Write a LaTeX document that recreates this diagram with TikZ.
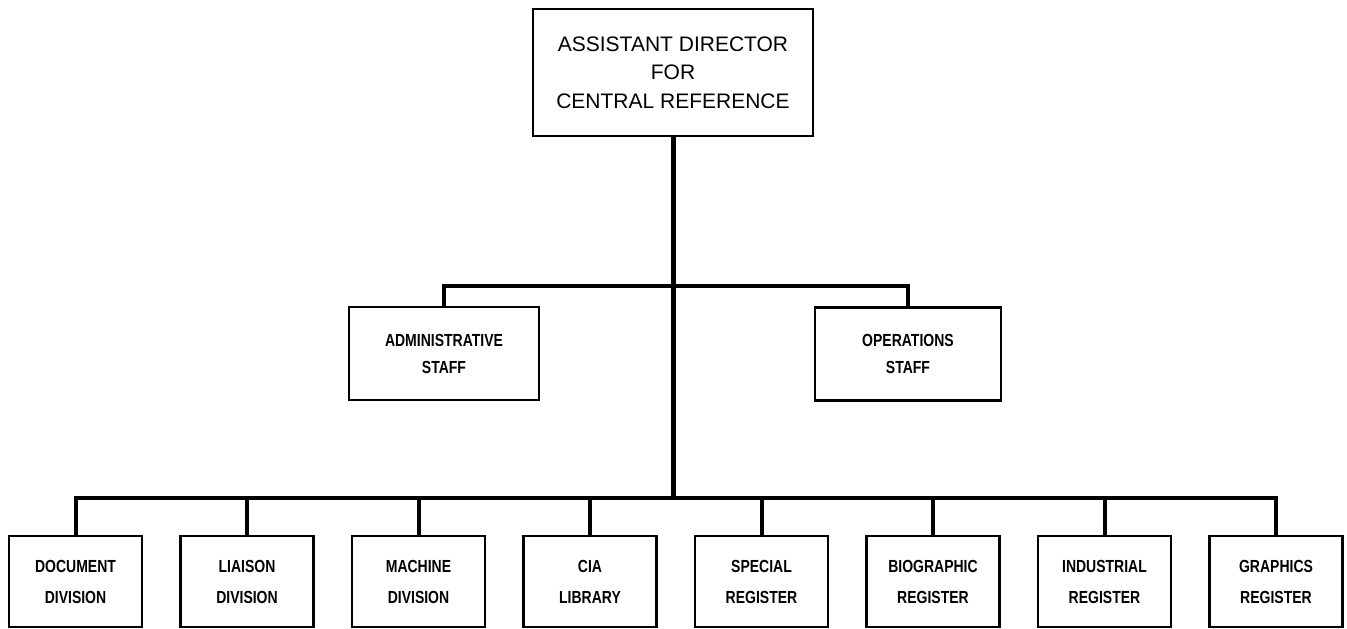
\documentclass[tikz,border=0pt]{standalone}
\usepackage{fontspec}
\usepackage{tikz}
\setmainfont{Liberation Sans}
\newfontfamily\narrowfont[FakeStretch=0.8]{Liberation Sans}
\tikzstyle{head} = [rectangle, draw, line width=2.5pt, minimum width=280pt, minimum height=127pt, align=center, font=\fontsize{21}{28.5}\selectfont]
\tikzstyle{staff} = [rectangle, draw, line width=2.5pt, minimum height=93pt, align=center, font=\narrowfont\bfseries\fontsize{17.5}{27}\selectfont]
\tikzstyle{unit} = [rectangle, draw, line width=2.5pt, minimum width=133pt, minimum height=91pt, align=center, font=\narrowfont\bfseries\fontsize{17.5}{31}\selectfont]
\tikzstyle{trunk} = [line width=5pt]
\tikzstyle{bus} = [line width=4pt]

\begin{document}
\begin{tikzpicture}[x=1pt,y=-1pt,node distance=171.5pt]
  \useasboundingbox (0,0) rectangle (1347,629);
  \node[head] (ADCR) at (673,72.5) {ASSISTANT DIRECTOR\\FOR\\CENTRAL REFERENCE};
  \node[staff, minimum width=190pt] (AdmStaff) at (444,353.5) {ADMINISTRATIVE\\STAFF};
  \node[staff, minimum width=186pt] (OpsStaff) at (908,354) {OPERATIONS\\STAFF};

  \node[unit] (DocDiv) at (75.5,581.5) {DOCUMENT\\DIVISION};
  \node[unit] (LiaDiv) [right of=DocDiv] {LIAISON\\DIVISION};
  \node[unit] (MacDiv) [right of=LiaDiv] {MACHINE\\DIVISION};
  \node[unit] (CiaLib) [right of=MacDiv] {CIA\\LIBRARY};
  \node[unit] (SpeReg) [right of=CiaLib] {SPECIAL\\REGISTER};
  \node[unit] (BioReg) [right of=SpeReg] {BIOGRAPHIC\\REGISTER};
  \node[unit] (IndReg) [right of=BioReg] {INDUSTRIAL\\REGISTER};
  \node[unit] (GraReg) [right of=IndReg] {GRAPHICS\\REGISTER};

  \coordinate (StaffBus) at (673,286);
  \coordinate (DivBus) at (673,498);

  \draw[trunk] (ADCR.south) -- (DivBus);
  \draw[bus] (AdmStaff.north) |- (StaffBus) -| (OpsStaff.north);
  \draw[bus] (DocDiv.north) |- (DivBus) -| (GraReg.north);
  \foreach \n in {LiaDiv,MacDiv,CiaLib,SpeReg,BioReg,IndReg}
    \draw[bus] (\n.north) -- (\n.north |- DivBus);
\end{tikzpicture}
\end{document}
